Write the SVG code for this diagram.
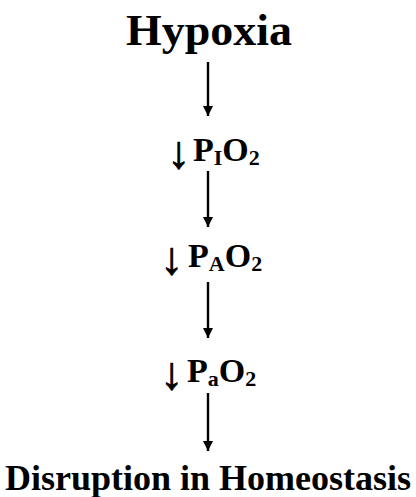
<svg xmlns="http://www.w3.org/2000/svg" width="416" height="497" viewBox="0 0 416 497">
<defs>
<style>
.t{font-family:"Liberation Serif","Times New Roman",serif;font-weight:bold;fill:#000}
.p{font-size:34px}
.s{font-size:22px}
.d{font-size:46px;stroke:#000;stroke-width:0.8}
.c line{stroke:#000;stroke-width:2.4}
</style>
<marker id="ah" viewBox="0 0 10 10" refX="10" refY="5" markerWidth="10" markerHeight="10" markerUnits="userSpaceOnUse" orient="auto">
<path d="M0,0 L10,5 L0,10 z" fill="#000"/>
</marker>
</defs>
<rect width="416" height="497" fill="#fff"/>
<g id="hypoxia"><text class="t" x="209" y="45" font-size="45" text-anchor="middle" textLength="166" lengthAdjust="spacingAndGlyphs">Hypoxia</text></g>
<g id="pio2">
<text class="t d" x="167" y="168">↓</text>
<text class="t p" x="193" y="161">P<tspan class="s" dy="4">I</tspan><tspan dy="-4">O</tspan><tspan class="s" dy="4">2</tspan></text>
</g>
<g id="pao2">
<text class="t d" x="160" y="274">↓</text>
<text class="t p" x="188" y="267">P<tspan class="s" dy="4">A</tspan><tspan dy="-4">O</tspan><tspan class="s" dy="4">2</tspan></text>
</g>
<g id="pao2-arterial">
<text class="t d" x="160" y="389">↓</text>
<text class="t p" x="187" y="382">P<tspan class="s" dy="4">a</tspan><tspan dy="-4">O</tspan><tspan class="s" dy="4">2</tspan></text>
</g>
<g id="disruption"><text class="t" x="208" y="490" font-size="36" text-anchor="middle" textLength="406" lengthAdjust="spacingAndGlyphs">Disruption in Homeostasis</text></g>
<g id="connectors" class="c">
<line x1="208" y1="62" x2="208" y2="116" marker-end="url(#ah)"/>
<line x1="208" y1="171" x2="208" y2="227" marker-end="url(#ah)"/>
<line x1="208" y1="282" x2="208" y2="338" marker-end="url(#ah)"/>
<line x1="208" y1="393" x2="208" y2="451" marker-end="url(#ah)"/>
</g>
</svg>
